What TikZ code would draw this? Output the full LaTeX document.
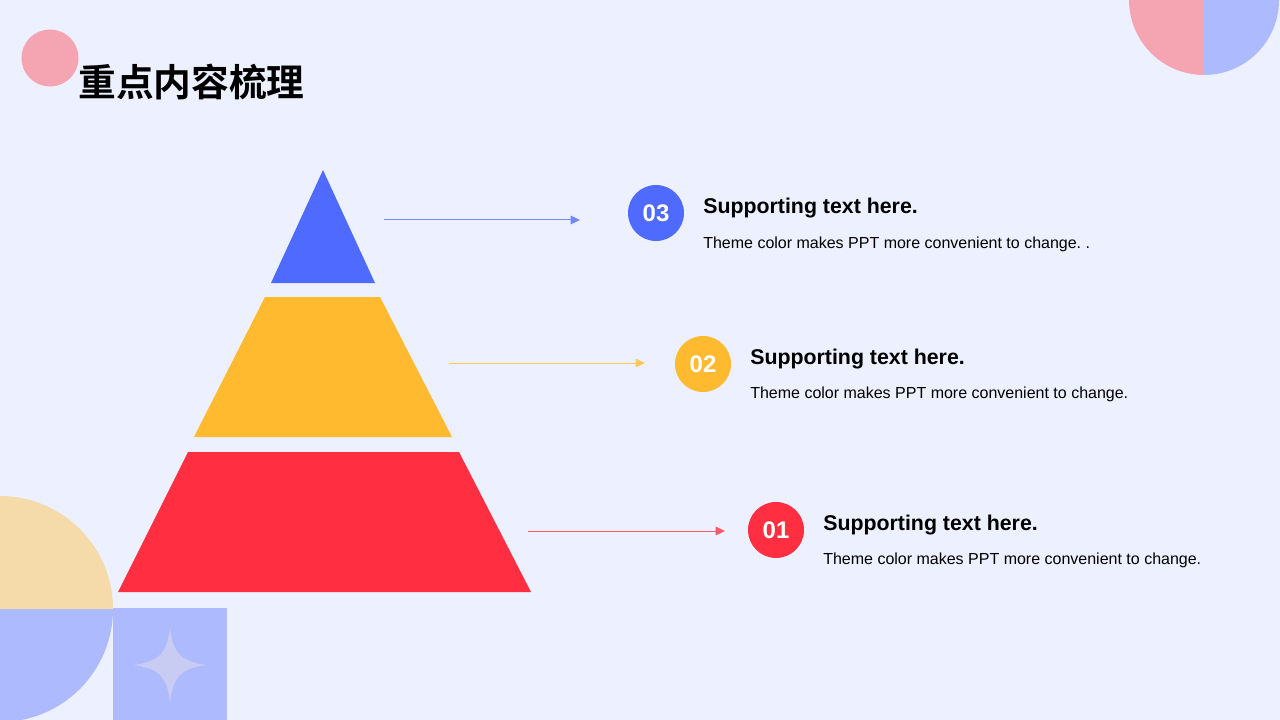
\documentclass[tikz,border=0pt]{standalone}
\usepackage{fontspec}
\setmainfont{Liberation Sans}
\newfontfamily\cjkbold{Noto Sans CJK SC Bold}
\usetikzlibrary{arrows.meta,positioning}

\definecolor{bgcol}{HTML}{EDF0FE}
\definecolor{pinkcol}{HTML}{F5A5B2}
\definecolor{lavcol}{HTML}{ADBBFE}
\definecolor{tancol}{HTML}{F5DAAA}
\definecolor{starcol}{HTML}{C9CCF2}
\definecolor{bluecol}{HTML}{4F6BFF}
\definecolor{yellowcol}{HTML}{FFBA30}
\definecolor{redcol}{HTML}{FF2E40}

\frenchspacing

\begin{document}
\begin{tikzpicture}[
    x=0.75pt, y=-0.75pt,
    >={Triangle[length=7pt,width=6.5pt]},
    numdot/.style={
        circle,
        minimum size=42pt,
        inner sep=0pt,
        text=white,
        font=\bfseries\fontsize{18}{20}\selectfont
    },
    headtext/.style={
        anchor=base west,
        inner sep=0pt,
        font=\bfseries\fontsize{16}{19}\selectfont
    },
    bodytext/.style={
        anchor=base west,
        inner sep=0pt,
        font=\fontsize{12}{14}\selectfont
    },
    edge/.style={
        ->,
        line width=0.75pt
    }
]

% Background
\fill[bgcol] (0,0) rectangle (1280,720);
\useasboundingbox (0,0) rectangle (1280,720);

% Corner decorations
\fill[pinkcol] (50,58) circle (28.5);
\begin{scope}
    \clip (1129,0) rectangle (1204,80);
    \fill[pinkcol] (1204,0) circle (75);
\end{scope}
\begin{scope}
    \clip (1204,0) rectangle (1285,80);
    \fill[lavcol] (1204,0) circle (75);
\end{scope}
\begin{scope}
    \clip (0,480) rectangle (120,609);
    \fill[tancol] (0,609) circle (113);
\end{scope}
\begin{scope}
    \clip (0,609) rectangle (120,725);
    \fill[lavcol] (0,609) circle (113);
\end{scope}
\fill[lavcol] (113,608) rectangle (227,720);
\fill[starcol] (170,628)
    .. controls (173,654) and (182,662) .. (207,665)
    .. controls (182,668) and (173,676) .. (170,702)
    .. controls (167,676) and (158,668) .. (133,665)
    .. controls (158,662) and (167,654) .. (170,628) -- cycle;

% Title
\node[anchor=west, inner sep=0pt, font=\cjkbold\fontsize{28.3}{32}\selectfont] (title) at (78,82) {重点内容梳理};

% Pyramid
\fill[bluecol] (323,170) -- (375,283) -- (271,283) -- cycle;
\fill[yellowcol] (265,297) -- (380,297) -- (452,437) -- (194,437) -- cycle;
\fill[redcol] (188,452) -- (459,452) -- (531,592) -- (118,592) -- cycle;

% Arrow start points
\coordinate (s3) at (384,220);
\coordinate (s2) at (449,363);
\coordinate (s1) at (528,531);

% Level 3
\node[numdot, fill=bluecol] (n3) at (656,213) {03};
\coordinate (e3) at (580,220);
\node[headtext] (h3) at (703,214) {Supporting text here.};
\node[bodytext] (b3) at (703,248) {Theme color makes PPT more convenient to change. .};

% Level 2
\node[numdot, fill=yellowcol] (n2) at (703,364) {02};
\coordinate (e2) at (645,363);
\node[headtext] (h2) at (750,364) {Supporting text here.};
\node[bodytext] (b2) at (750,398) {Theme color makes PPT more convenient to change.};

% Level 1
\node[numdot, fill=redcol] (n1) at (776,530) {01};
\coordinate (e1) at (725,531);
\node[headtext] (h1) at (823,530) {Supporting text here.};
\node[bodytext] (b1) at (823,564) {Theme color makes PPT more convenient to change.};

% Arrows
\draw[edge, bluecol!80!white] (s3) -- (e3);
\draw[edge, yellowcol!80!white] (s2) -- (e2);
\draw[edge, redcol!80!white] (s1) -- (e1);

\end{tikzpicture}
\end{document}
